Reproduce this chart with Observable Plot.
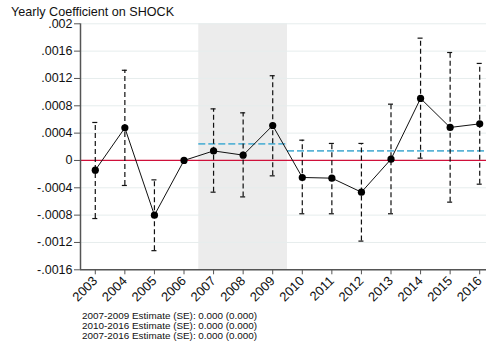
<!DOCTYPE html>
<html>
<head>
<meta charset="utf-8">
<script src="https://cdn.jsdelivr.net/npm/d3@7"></script>
<script src="https://cdn.jsdelivr.net/npm/@observablehq/plot@0.6"></script>
<style>
  html, body { margin: 0; padding: 0; background: #fff; overflow: hidden; width: 486px; height: 345px; }
  body { font-family: "Liberation Sans", Arial, sans-serif; color: #111; position: relative; }
  #title { position: absolute; left: 11px; top: 6px; font-size: 12.6px; line-height: 12px; white-space: nowrap; z-index: 2; }
  #chart svg { display: block; background: transparent; overflow: hidden; }
  #caption { font-size: 9.9px; line-height: 9.7px; padding: 1.2px 0 0 82px; white-space: pre; }
</style>
</head>
<body>
<div id="title">Yearly Coefficient on SHOCK</div>
<div id="chart"></div>
<div id="caption"></div>
<script>
const years = [2003, 2004, 2005, 2006, 2007, 2008, 2009, 2010, 2011, 2012, 2013, 2014, 2015, 2016];
const coef  = [-0.000142, 0.000477, -0.0008, 0, 0.00014, 0.000078, 0.000512, -0.000249, -0.000259, -0.000464, 0.000019, 0.000908, 0.000483, 0.000536];
const upper = [0.000556, 0.00132, -0.000284, 0, 0.000755, 0.000697, 0.00124, 0.000297, 0.000249, 0.000249, 0.000824, 0.00179, 0.00158, 0.00142];
const lower = [-0.00085, -0.000366, -0.00132, 0, -0.000464, -0.000533, -0.000225, -0.00078, -0.00078, -0.00118, -0.00078, 0.000034, -0.00061, -0.000347];
const yTicks = [0.002, 0.0016, 0.0012, 0.0008, 0.0004, 0, -0.0004, -0.0008, -0.0012, -0.0016];
const yTickLabels = [".002", ".0016", ".0012", ".0008", ".0004", "0", "-.0004", "-.0008", "-.0012", "-.0016"];
const shadedPeriod = [2006.5, 2009.5];
const periodEstimates = [
  {x1: 2006.5, x2: 2009.5, value: 0.000243},
  {x1: 2009.5, x2: 2016.6, value: 0.00014}
];
const captionLines = [
  "2007-2009 Estimate (SE): 0.000 (0.000)",
  "2010-2016 Estimate (SE): 0.000 (0.000)",
  "2007-2016 Estimate (SE): 0.000 (0.000)"
];

const data = years.map((y, i) => ({year: y, coef: coef[i], lo: lower[i], hi: upper[i]}));
const ciData = data.filter(d => d.hi !== d.lo);
const caps = ciData.flatMap(d => [{year: d.year, v: d.hi}, {year: d.year, v: d.lo}]);
const capHalf = 0.085;
const labelOf = new Map(yTicks.map((t, i) => [t, yTickLabels[i]]));

const chart = Plot.plot({
  width: 486,
  height: 310,
  marginTop: 23.3,
  marginBottom: 40.7,
  marginLeft: 80,
  marginRight: 0,
  style: {fontFamily: "Liberation Sans, Arial, sans-serif", fontSize: "12.5px", color: "#111", background: "transparent"},
  x: {type: "linear", domain: [2002.5, 2016.5], range: [80, 494]},
  y: {domain: [-0.0016, 0.002]},
  marks: [
    Plot.rect([shadedPeriod], {x1: d => d[0], x2: d => d[1], y1: () => -0.0016, y2: () => 0.002, fill: "#ececec"}),
    Plot.ruleY(yTicks, {stroke: "#e6eded", strokeWidth: 1}),
    Plot.ruleY([0], {stroke: "#d0103a", strokeWidth: 1.2}),
    Plot.ruleY(periodEstimates, {y: "value", x1: "x1", x2: "x2", stroke: "#5ab4d6", strokeWidth: 1.6, strokeDasharray: "7,3"}),
    Plot.ruleX(ciData, {x: "year", y1: "lo", y2: "hi", stroke: "#111", strokeWidth: 1.2, strokeDasharray: "5,3"}),
    Plot.ruleY(caps, {y: "v", x1: d => d.year - capHalf, x2: d => d.year + capHalf, stroke: "#111", strokeWidth: 1.2}),
    Plot.line(data, {x: "year", y: "coef", stroke: "#111", strokeWidth: 1}),
    Plot.dot(data, {x: "year", y: "coef", r: 3.6, fill: "#000", stroke: "none"}),
    Plot.axisY({ticks: yTicks, tickFormat: d => labelOf.get(d), tickSize: 6, tickPadding: 2, stroke: "#555", fontSize: 12.5}),
    Plot.ruleX([2002.5], {stroke: "#555", strokeWidth: 1.5}),
    Plot.ruleY([-0.0016], {stroke: "#555", strokeWidth: 1.5}),
    Plot.axisX({ticks: years, tickFormat: d => String(d), tickRotate: -45, tickSize: 5, tickPadding: 4, stroke: "#555", fontSize: 13})
  ]
});

document.getElementById("chart").append(chart);
document.getElementById("caption").textContent = captionLines.join("\n");
</script>
</body>
</html>
